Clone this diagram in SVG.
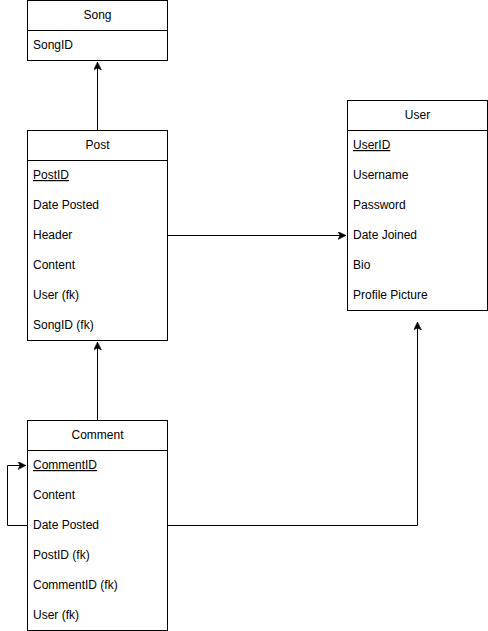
<svg xmlns="http://www.w3.org/2000/svg" width="488" height="631" viewBox="0 0 488 631">
<style>
.box{fill:#fff;stroke:#000;stroke-width:1}
.div{stroke:#000;stroke-width:1}
.t{font-family:"Liberation Sans",Arial,sans-serif;font-size:12px;fill:#000}
.h{text-anchor:middle}
.u{text-decoration:underline}
.c{fill:none;stroke:#000;stroke-width:1}
</style>
<defs>
<marker id="arr" markerWidth="10" markerHeight="10" refX="8" refY="4" orient="auto" markerUnits="userSpaceOnUse">
<path d="M0,0 L8,4 L0,8 L2,4 Z" fill="#000" stroke="#000" stroke-width="0.5"/>
</marker>
</defs>
<rect width="488" height="631" fill="#fff"/>
<g id="connectors">
<path class="c" d="M97.5,130 V62" marker-end="url(#arr)"/>
<path class="c" d="M97.5,420 V342" marker-end="url(#arr)"/>
<path class="c" d="M167,235.5 H346" marker-end="url(#arr)"/>
<path class="c" d="M27,525.5 H7.5 V465.5 H26" marker-end="url(#arr)"/>
<path class="c" d="M167,525.5 H417.5 V322" marker-end="url(#arr)"/>
</g>
<g id="song">
<rect class="box" x="27.5" y="0.5" width="140" height="60"/>
<line class="div" x1="27.5" y1="30.5" x2="167.5" y2="30.5"/>
<text class="t h" x="97.5" y="19">Song</text>
<text class="t" x="33" y="49">SongID</text>
</g>
<g id="post">
<rect class="box" x="27.5" y="130.5" width="140" height="210"/>
<line class="div" x1="27.5" y1="160.5" x2="167.5" y2="160.5"/>
<text class="t h" x="97.5" y="149">Post</text>
<text class="t u" x="33" y="179">PostID</text>
<text class="t" x="33" y="209">Date Posted</text>
<text class="t" x="33" y="239">Header</text>
<text class="t" x="33" y="269">Content</text>
<text class="t" x="33" y="299">User (fk)</text>
<text class="t" x="33" y="329">SongID (fk)</text>
</g>
<g id="user">
<rect class="box" x="347.5" y="100.5" width="140" height="210"/>
<line class="div" x1="347.5" y1="130.5" x2="487.5" y2="130.5"/>
<text class="t h" x="417.5" y="119">User</text>
<text class="t u" x="353" y="149">UserID</text>
<text class="t" x="353" y="179">Username</text>
<text class="t" x="353" y="209">Password</text>
<text class="t" x="353" y="239">Date Joined</text>
<text class="t" x="353" y="269">Bio</text>
<text class="t" x="353" y="299">Profile Picture</text>
</g>
<g id="comment">
<rect class="box" x="27.5" y="420.5" width="140" height="210"/>
<line class="div" x1="27.5" y1="450.5" x2="167.5" y2="450.5"/>
<text class="t h" x="97.5" y="439">Comment</text>
<text class="t u" x="33" y="469">CommentID</text>
<text class="t" x="33" y="499">Content</text>
<text class="t" x="33" y="529">Date Posted</text>
<text class="t" x="33" y="559">PostID (fk)</text>
<text class="t" x="33" y="589">CommentID (fk)</text>
<text class="t" x="33" y="619">User (fk)</text>
</g>
</svg>
